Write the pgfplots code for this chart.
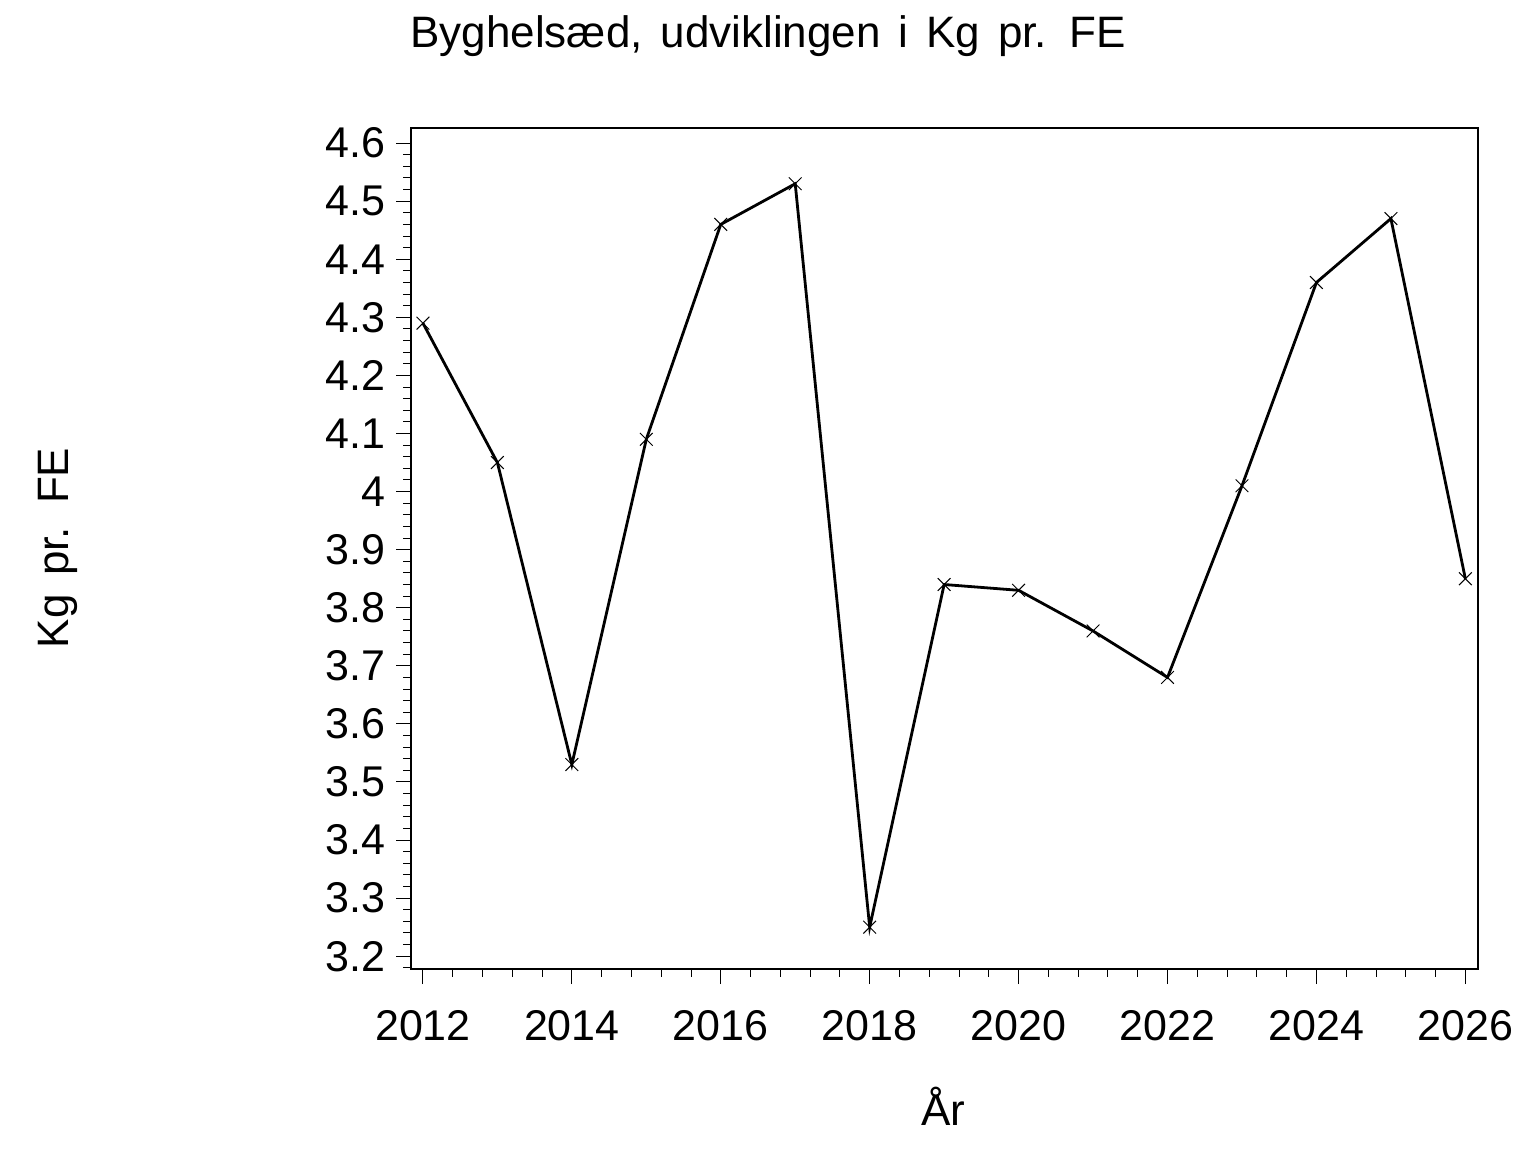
\documentclass[border=0pt]{standalone}
\usepackage{pgfplots}
\pgfplotsset{compat=1.18}
\usepackage{fontspec}
\setmainfont{Liberation Sans}
\begin{document}
\begin{tikzpicture}
\path (0,0) rectangle (768pt,576pt);
\begin{axis}[
  at={(205.5pt,91.5pt)}, anchor=south west,
  scale only axis, width=533.5pt, height=420.5pt,
  xmin=2011.84, xmax=2026.17,
  ymin=3.178, ymax=4.626,
  xtick distance=2, minor x tick num=4,
  ytick distance=0.1, minor y tick num=4,
  xtick pos=bottom, ytick pos=left,
  tick align=outside,
  major tick length=7.5pt, minor tick length=3.8pt,
  every tick/.style={black, line width=0.5pt},
  axis line style={line width=0.6pt},
  /pgf/number format/assume math mode=true,
  /pgf/number format/1000 sep={},
  ticklabel style={font=\fontsize{21.5}{25}\selectfont},
  xticklabel style={inner sep=0pt, yshift=-13pt},
  yticklabel style={inner sep=0pt, xshift=-5pt},
  y tick label style={/pgf/number format/fixed},
]
\addplot[black, line width=1.4pt, mark=x, mark size=4.5pt, mark options={line width=0.5pt}]
coordinates {
(2012,4.29) (2013,4.05) (2014,3.53) (2015,4.09) (2016,4.46) (2017,4.53)
(2018,3.25) (2019,3.84) (2020,3.83) (2021,3.76) (2022,3.68) (2023,4.01)
(2024,4.36) (2025,4.47) (2026,3.85)
};
\end{axis}
\node[anchor=base, inner sep=0pt, font=\fontsize{22}{26}\selectfont] at (384pt,552pt) {Byghelsæd,\hspace{0.13em} udviklingen\hspace{0.13em} i\hspace{0.13em} Kg\hspace{0.13em} pr.\hspace{0.13em} FE};
\node[anchor=base, inner sep=0pt, rotate=90, font=\fontsize{22}{26}\selectfont] at (34pt,302pt) {Kg\hspace{0.15em} pr.\hspace{0.15em} FE};
\node[anchor=base, inner sep=0pt, font=\fontsize{22}{26}\selectfont] at (471.5pt,13.5pt) {År};
\end{tikzpicture}
\end{document}
